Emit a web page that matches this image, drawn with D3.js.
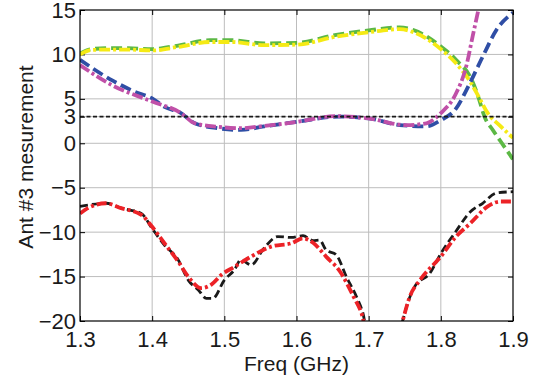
<!DOCTYPE html>
<html>
<head>
<meta charset="utf-8">
<script src="https://d3js.org/d3.v7.min.js"></script>
<style>
  body { margin: 0; background: #fff; }
  svg { display: block; font-family: "Liberation Sans", Arial, sans-serif; }
</style>
</head>
<body>
<svg id="chart" width="544" height="380"></svg>
<script>
// tick values
const xTicks = [1.3, 1.4, 1.5, 1.6, 1.7, 1.8, 1.9];
const yTicks = [-20, -15, -10, -5, 0, 3, 5, 10, 15];

// series, [freq GHz, value]
const greenData = [[1.30,10.1],[1.316,10.6],[1.34,10.7],[1.366,10.7],[1.40,10.6],[1.436,11.0],[1.48,11.6],[1.51,11.6],[1.555,11.25],[1.60,11.3],[1.655,12.2],[1.70,12.7],[1.743,13.05],[1.762,12.75],[1.80,10.9],[1.821,9.4],[1.843,7.1],[1.852,5.2],[1.861,2.9],[1.872,1.5],[1.883,0.2],[1.90,-1.8]];
const yellowData = [[1.30,10.0],[1.316,10.5],[1.34,10.55],[1.366,10.55],[1.40,10.45],[1.436,10.85],[1.48,11.4],[1.51,11.4],[1.555,11.05],[1.60,11.1],[1.655,12.0],[1.70,12.5],[1.743,12.85],[1.762,12.5],[1.80,10.6],[1.821,9.0],[1.841,6.9],[1.852,5.3],[1.865,3.4],[1.883,1.9],[1.90,0.6]];
const blueData = [[1.30,9.4],[1.344,7.1],[1.376,5.8],[1.40,5.05],[1.417,4.1],[1.44,3.4],[1.459,2.25],[1.491,1.7],[1.523,1.5],[1.555,1.9],[1.60,2.4],[1.659,3.0],[1.70,2.8],[1.743,2.05],[1.78,1.9],[1.80,2.6],[1.821,3.9],[1.838,6.4],[1.858,9.75],[1.877,12.75],[1.90,14.7]];
const magentaData = [[1.30,8.8],[1.344,6.55],[1.40,4.7],[1.44,3.4],[1.459,2.25],[1.491,1.85],[1.523,1.7],[1.555,1.95],[1.60,2.4],[1.655,3.05],[1.70,2.8],[1.752,2.05],[1.78,2.25],[1.80,3.4],[1.821,5.6],[1.835,8.6],[1.844,12.0],[1.852,15.0],[1.86,18]];
const blackData = [[1.30,-7.1],[1.311,-6.95],[1.336,-6.75],[1.357,-7.3],[1.385,-7.9],[1.40,-9.6],[1.417,-11.45],[1.436,-13.1],[1.45,-15.4],[1.464,-16.5],[1.475,-17.45],[1.484,-17.45],[1.50,-15.4],[1.514,-14.25],[1.523,-13.1],[1.537,-13.7],[1.555,-11.8],[1.574,-10.5],[1.593,-10.6],[1.609,-10.4],[1.623,-10.95],[1.632,-10.9],[1.641,-12.0],[1.655,-12.55],[1.669,-15.0],[1.683,-17.25],[1.692,-19.1],[1.70,-22],[1.74,-22],[1.747,-20],[1.754,-18.0],[1.764,-16.1],[1.785,-14.6],[1.80,-12.4],[1.821,-9.9],[1.841,-7.7],[1.858,-6.75],[1.877,-5.6],[1.90,-5.45]];
const redData = [[1.30,-7.9],[1.311,-7.3],[1.336,-6.75],[1.357,-7.3],[1.385,-8.05],[1.40,-9.4],[1.417,-11.25],[1.436,-13.3],[1.45,-15.0],[1.468,-16.3],[1.482,-15.9],[1.496,-14.8],[1.514,-13.9],[1.537,-12.75],[1.566,-11.6],[1.593,-11.25],[1.609,-10.7],[1.623,-11.2],[1.641,-12.75],[1.66,-14.4],[1.679,-17.25],[1.69,-19.1],[1.70,-22],[1.74,-22],[1.747,-20],[1.757,-17.25],[1.771,-15.4],[1.80,-12.75],[1.821,-10.5],[1.841,-9.0],[1.865,-7.1],[1.883,-6.55],[1.90,-6.55]];
const limitData = [[1.3,3],[1.9,3]];

const svg = d3.select("#chart");
const margin = {top: 10, right: 31, bottom: 59, left: 80};
const W = 544 - margin.left - margin.right;
const H = 380 - margin.top - margin.bottom;

const x = d3.scaleLinear().domain([1.3, 1.9]).range([0, W]);
const y = d3.scaleLinear().domain([-20, 15]).range([H, 0]);

const g = svg.append("g").attr("transform", "translate(" + margin.left + "," + margin.top + ")");

g.append("clipPath").attr("id", "clip")
  .append("rect").attr("width", W).attr("height", H);

// grid
g.append("g").selectAll("line").data(xTicks.slice(1, -1)).enter().append("line")
  .attr("x1", d => x(d)).attr("x2", d => x(d)).attr("y1", 0).attr("y2", H)
  .attr("stroke", "#bdbdbd").attr("stroke-width", 1);
g.append("g").selectAll("line").data(yTicks.slice(1, -1)).enter().append("line")
  .attr("x1", 0).attr("x2", W).attr("y1", d => y(d)).attr("y2", d => y(d))
  .attr("stroke", "#bdbdbd").attr("stroke-width", 1);

// axes, ticks pointing in
const bottom = g.append("g").attr("transform", "translate(0," + H + ")")
  .call(d3.axisBottom(x).tickValues(xTicks).tickSizeInner(-5).tickSizeOuter(0).tickPadding(10).tickFormat(d3.format(".1f")));
const left = g.append("g")
  .call(d3.axisLeft(y).tickValues(yTicks).tickSizeInner(-5).tickSizeOuter(0).tickPadding(4).tickFormat(d3.format("")));
g.append("g").call(d3.axisTop(x).tickValues(xTicks).tickSizeInner(-5).tickSizeOuter(0).tickFormat(""));
g.append("g").attr("transform", "translate(" + W + ",0)")
  .call(d3.axisRight(y).tickValues(yTicks).tickSizeInner(-5).tickSizeOuter(0).tickFormat(""));
g.selectAll(".domain").remove();
g.selectAll(".tick line").attr("stroke", "#000");
g.selectAll(".tick text").attr("font-size", 22).attr("font-family", "Liberation Sans, Arial, sans-serif").attr("fill", "#1a1a1a");
bottom.selectAll(".tick text").attr("dy", "0.72em");

// series
const line = d3.line().x(d => x(d[0])).y(d => y(d[1])).curve(d3.curveMonotoneX);
const plot = g.append("g").attr("clip-path", "url(#clip)");

function draw(data, color, width, dash) {
  plot.append("path").datum(data)
    .attr("fill", "none")
    .attr("stroke", color)
    .attr("stroke-width", width)
    .attr("stroke-dasharray", dash)
    .attr("d", line);
}

draw(greenData, "#5cb845", 3.8, "11,5");
draw(yellowData, "#f5ea14", 3.8, "11,3,3,3");
draw(blueData, "#2f4ea5", 3.8, "11,5");
draw(magentaData, "#c050a8", 3.8, "11,3,3,3");
draw(blackData, "#1a1a1a", 2.8, "8,4");
draw(redData, "#ec2227", 3.8, "10,3,3,3");
draw(limitData, "#1a1a1a", 1.6, "4,2.5");

// frame
g.append("rect").attr("width", W).attr("height", H)
  .attr("fill", "none").attr("stroke", "#000").attr("stroke-width", 1.2);

// axis titles
svg.append("text")
  .attr("x", margin.left + W / 2).attr("y", 371)
  .attr("text-anchor", "middle").attr("font-size", 21).attr("fill", "#1a1a1a")
  .text("Freq (GHz)");
svg.append("text")
  .attr("transform", "translate(33," + (margin.top + 147) + ") rotate(-90)")
  .attr("text-anchor", "middle").attr("font-size", 21).attr("fill", "#1a1a1a")
  .text("Ant #3 mesurement");
</script>
</body>
</html>
